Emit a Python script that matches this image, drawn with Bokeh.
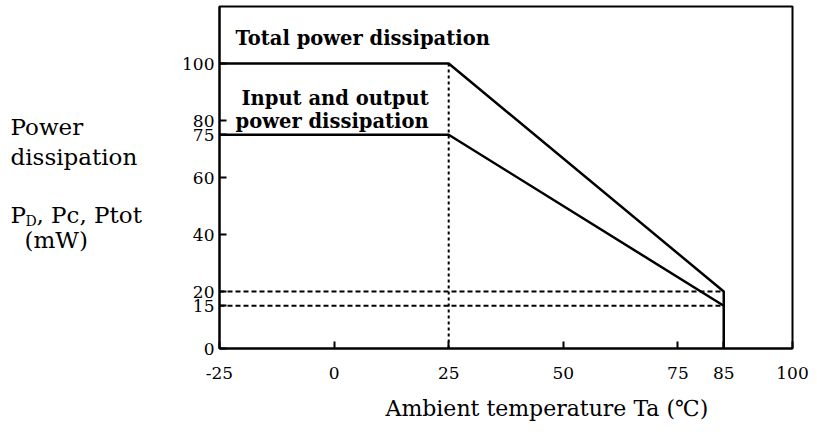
from bokeh.plotting import figure
from bokeh.models import Range1d, FixedTicker, Label
from bokeh.layouts import row, column
from bokeh.embed import file_html
from bokeh.resources import INLINE

# data
temp_total = [-25, 25, 85, 85]
p_total = [100, 100, 20, 0]
temp_io = [-25, 25, 85]
p_io = [75, 75, 15]
x_ticks = [-25, 0, 25, 50, 75, 85, 100]
y_ticks = [0, 15, 20, 40, 60, 75, 80, 100]
ref_levels = [20, 15]
ref_temp = 25

SERIF = "DejaVu Serif"
LEFT_W = 170
TOP_H = 388
TOTAL_W = 809
BOTTOM_H = 46

p = figure(width=TOTAL_W - LEFT_W, height=TOP_H, output_backend="svg", toolbar_location=None,
           x_range=Range1d(-25, 100), y_range=Range1d(0, 120),
           min_border_left=219 - LEFT_W, min_border_right=17, min_border_top=6, min_border_bottom=40)
p.background_fill_color = "white"
p.border_fill_color = "white"
p.outline_line_color = "black"
p.outline_line_width = 2
p.grid.visible = False

for ax in (p.xaxis[0], p.yaxis[0]):
    ax.axis_line_width = 2
    ax.axis_line_color = "black"
    ax.major_tick_in = 7
    ax.major_tick_out = 0
    ax.major_tick_line_width = 2
    ax.minor_tick_line_color = None
    ax.major_label_text_font = SERIF
    ax.major_label_text_font_size = "17px"
    ax.major_label_text_color = "black"

p.xaxis.ticker = FixedTicker(ticks=x_ticks)
p.yaxis.ticker = FixedTicker(ticks=y_ticks)
p.xaxis.major_label_overrides = {-25: "-25"}
p.xaxis.major_label_standoff = 18
p.yaxis.major_label_standoff = 5

# reference dashed lines
for lv in ref_levels:
    p.line([-25, 85], [lv, lv], line_color="black", line_width=2, line_dash="5 3")
p.line([ref_temp, ref_temp], [0, 100], line_color="black", line_width=2, line_dash="3 3")

# curves
p.line(temp_total, p_total, line_color="black", line_width=2.5)
p.line(temp_io, p_io, line_color="black", line_width=2.5)


def lab(fig, x, y, t, size="16px", style="normal"):
    fig.add_layout(Label(x=x, y=y, text=t, text_font=SERIF, text_font_size=size,
                         text_font_style=style, text_baseline="middle", text_align="left",
                         text_color="black"))


lab(p, -21.5, 108.8, "Total power dissipation", "19.5px", "bold")
lab(p, -20.2, 87.7, "Input and output", "19.5px", "bold")
lab(p, -21.5, 79.6, "power dissipation", "19.5px", "bold")


def blank(w, h, x0, x1, y0, y1):
    f = figure(width=w, height=h, output_backend="svg", toolbar_location=None,
               x_range=Range1d(x0, x1), y_range=Range1d(y1, y0),
               x_axis_location=None, y_axis_location=None,
               min_border=0, min_border_left=0, min_border_right=0,
               min_border_top=0, min_border_bottom=0)
    f.outline_line_color = None
    f.grid.visible = False
    f.background_fill_color = "white"
    f.border_fill_color = "white"
    return f


# left text panel (coordinates in page pixels, y downward; frame aligned with main frame)
left = blank(LEFT_W, TOP_H, 0, LEFT_W, 8, 348)
lab(left, 10, 128, "Power", "23px")
lab(left, 10, 158, "dissipation", "23px")
lab(left, 10, 215, "P", "23px")
lab(left, 25, 221, "D", "14px")
lab(left, 36, 215, ", Pc, Ptot", "23px")
lab(left, 24, 240, "(mW)", "23px")

# bottom title panel
bottom = blank(TOTAL_W, BOTTOM_H, 0, TOTAL_W, TOP_H, TOP_H + BOTTOM_H)
lab(bottom, 385, 408, "Ambient temperature  Ta (\u2103)", "22px")

layout = column(row(left, p), bottom)
open("out.html", "w").write(file_html(layout, INLINE))
